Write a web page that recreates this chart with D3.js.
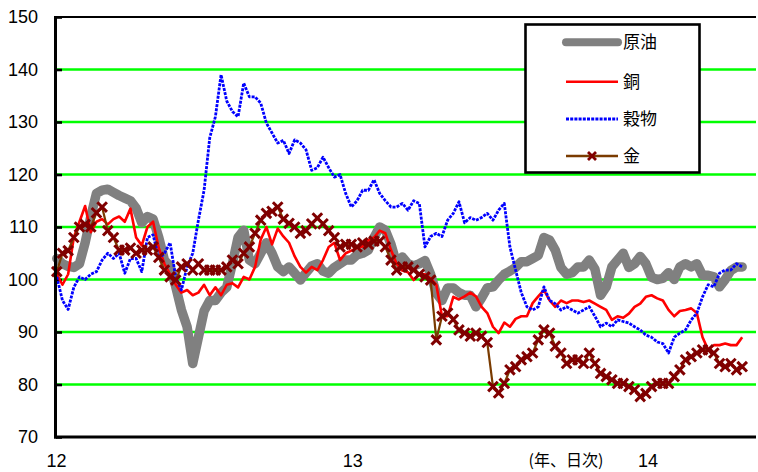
<!DOCTYPE html>
<html>
<head>
<meta charset="utf-8">
<script src="https://cdn.jsdelivr.net/npm/d3@7/dist/d3.min.js"></script>
<style>
  html, body { margin: 0; padding: 0; background: #fff; }
  svg { display: block; }
  text { font-family: "Liberation Sans", Arial, sans-serif; fill: #000; }
  .jp { font-family: "Noto Sans CJK JP", "Noto Sans CJK SC", sans-serif; }
</style>
</head>
<body>
<svg id="chart" width="758" height="472"></svg>
<script>
// Weekly observations (index, 2012 start = 100), from the first week of Jan 2012
const startDate = new Date(2012, 0, 2);
const stepDays = 7;

// 原油 (crude oil)
const crudeOil = [
  104, 103, 102.5, 102.3, 103, 107, 112, 116.4, 117, 117.2,
  116.6, 116, 115.5, 115, 113.6, 110.8, 112, 111.5, 108, 103.7,
  102.5, 98.6, 94.2, 91, 84, 89, 94, 96, 96, 97.5,
  98.5, 103, 108, 109.4, 103.7, 103, 105, 107, 105, 102.4,
  101.5, 102.4, 101.2, 99.9, 101.3, 102.6, 103, 101.6, 101.2, 102.3,
  103, 103.7, 103.7, 104.7, 105, 105.6, 108, 110, 109.4, 106.7,
  103, 104.3, 103, 102.6, 103, 103.6, 101, 97.4, 96, 98.4,
  98.4, 97.5, 97, 97, 94.8, 96.5, 98.4, 98.6, 99.9, 101,
  101.6, 102.3, 103.4, 103.4, 104, 104.6, 108, 107.5, 105.6, 102.3,
  101, 101.3, 102.4, 102.4, 103.7, 102, 97, 98.6, 102.4, 103.7,
  105, 102.3, 103, 104.4, 103, 100.4, 100, 100.2, 101.3, 100,
  102.4, 103, 102.4, 103, 100.8, 100.8, 100.5, 98.6, 100, 101.7,
  102.4, 102.4
];

// 銅 (copper)
const copper = [
  101, 99, 101, 108, 111, 114, 109, 111, 111.5, 110.5,
  111.5, 112, 111, 113.5, 108, 106.5, 110, 111, 106, 103,
  101, 99, 97.5, 98, 97, 97.5, 99, 97, 98.5, 97,
  99, 99.3, 98.5, 100.5, 100, 102.4, 107.6, 110, 106.7, 109.7,
  108.2, 107, 104.4, 102.4, 101.3, 102.4, 101.8, 103.7, 106.2, 107,
  103.7, 105, 105.5, 106, 106.3, 107.5, 108, 109.3, 108.8, 105.6,
  103, 101.7, 101.4, 99.9, 101, 101, 100.2, 99, 93, 93,
  96.7, 96.2, 96.8, 97.5, 96.8, 94.8, 93.6, 91, 89.8, 91.8,
  91, 92.5, 93, 93, 95.5, 96.8, 98, 96, 94.8, 96,
  95.5, 96, 96, 95.7, 96, 95.4, 94.8, 94.2, 92.3, 93,
  92.7, 93.5, 94.8, 95.4, 96.7, 97, 96.4, 96, 94.2, 93,
  94, 94.2, 94.5, 93.6, 89, 86.6, 87.5, 87.5, 87.8, 87.5,
  87.5, 89
];

// 穀物 (grains)
const grains = [
  100.5, 96, 94.3, 98.5, 100.5, 100, 101, 101.5, 103.7, 105,
  104, 105, 101.2, 104, 104, 101.5, 108, 108.5, 104, 105,
  107, 100.4, 98, 102.4, 105, 111.3, 117, 127, 131, 139,
  134, 132, 131, 137.4, 134.8, 134.8, 133.6, 129.8, 127.9, 126,
  126.5, 124, 126.6, 126, 124.7, 120.8, 121.3, 123.3, 121.3, 119.5,
  120, 116.4, 113.8, 115, 117, 117, 119, 116.4, 115, 113.8,
  113.8, 114.5, 113.2, 115, 114.5, 106.2, 108.2, 108.8, 108.2, 111.3,
  112.6, 114.8, 110.8, 111.8, 111.3, 111.8, 112.6, 111.3, 113.2, 114.5,
  106.2, 101.8, 97.5, 94.8, 94.2, 94.8, 98.6, 96, 95.4, 94.2,
  94.8, 94.2, 93.6, 94.2, 94.8, 93, 91, 91.7, 91, 92.3,
  92, 91.7, 91, 90.4, 89.4, 89, 88.1, 87.8, 86, 89,
  89.8, 90.4, 92.3, 93.6, 96.7, 99, 98.6, 101.2, 101.8, 101.8,
  103, 102.4
];

// 金 (gold)
const gold = [
  101.5, 105, 105.5, 108, 110, 110.5, 110, 112.7, 113.8, 109.3,
  108, 105.6, 105.6, 106, 105, 105.6, 105.6, 106.2, 104.2, 101.8,
  100.5, 99.9, 102.4, 103, 101.8, 103, 101.8, 101.8, 101.8, 101.8,
  102.4, 103.7, 103, 105, 106.2, 108.8, 111.3, 112.6, 113, 113.8,
  111.5, 110.7, 110, 108.8, 109.3, 110.6, 111.7, 110.6, 109.3, 108,
  106.2, 106.7, 106.7, 106.2, 107, 106.7, 107.3, 107.3, 106.2, 103.7,
  101.8, 102.4, 102.4, 101.8, 101, 100.5, 99.9, 88.5, 93, 93.6,
  92.4, 90.4, 89.8, 89.2, 89.8, 89.2, 88, 79.6, 78.4, 80.2,
  82.8, 83.4, 84.7, 85.3, 86, 88.5, 90.4, 89.8, 87.3, 86,
  84, 84.7, 84.7, 84, 86, 84, 82.1, 81.5, 80.9, 80.2,
  80.2, 79.6, 79, 77.7, 78.3, 79.6, 80.2, 80.2, 80.2, 81.5,
  82.8, 84.7, 85.3, 86, 86.6, 86.6, 86, 84, 83.4, 84,
  82.8, 83.4
];

const yTicks = [70, 80, 90, 100, 110, 120, 130, 140, 150];
const xTickYears = [2012, 2013, 2014];
const xTickLabels = ["12", "13", "14"];
const xUnitLabel = "(年、日次)";

const seriesDefs = [
  { name: "原油", values: crudeOil },
  { name: "銅",   values: copper },
  { name: "穀物", values: grains },
  { name: "金",   values: gold }
];

const svg = d3.select("#chart");
const plotLeft = 56, plotRight = 756, plotTop = 17, plotBottom = 437;

const x = d3.scaleTime()
  .domain([new Date(2012, 0, 1), new Date(2014, 0, 1)])
  .range([56, 647.5]);
const y = d3.scaleLinear().domain([70, 150]).range([plotBottom, plotTop]);

const dateAt = i => d3.timeDay.offset(startDate, i * stepDays);

// horizontal grid lines
svg.append("g").selectAll("line")
  .data(yTicks.filter(v => v > 70 && v < 150))
  .join("line")
  .attr("x1", plotLeft).attr("x2", plotRight)
  .attr("y1", d => y(d)).attr("y2", d => y(d))
  .attr("stroke", "#00ff00").attr("stroke-width", 2.6);

// top frame line
svg.append("line")
  .attr("x1", plotLeft - 1.5).attr("x2", plotRight)
  .attr("y1", y(150)).attr("y2", y(150))
  .attr("stroke", "#000").attr("stroke-width", 2.2);

// y axis
const yAxis = d3.axisLeft(y).tickValues(yTicks).tickSize(-6).tickPadding(16)
  .tickFormat(d3.format("d"));
const gy = svg.append("g").attr("transform", `translate(${plotLeft},0)`).call(yAxis);
gy.select(".domain").remove();
gy.selectAll(".tick line").attr("stroke", "#000").attr("stroke-width", 2.6);
gy.selectAll(".tick text")
  .attr("x", -18)
  .style("font-size", "18px")
  .style("font-family", "'Liberation Sans', Arial, sans-serif");

// x axis labels
const xAxis = d3.axisBottom(x)
  .tickValues(xTickYears.map(yv => new Date(yv, 0, 1)))
  .tickSize(0).tickPadding(17)
  .tickFormat((d, i) => xTickLabels[i]);
const gx = svg.append("g").attr("transform", `translate(0,${plotBottom})`).call(xAxis);
gx.select(".domain").remove();
gx.selectAll(".tick text")
  .style("font-size", "18px")
  .style("font-family", "'Liberation Sans', Arial, sans-serif");

svg.append("text").attr("class", "jp")
  .attr("x", 566).attr("y", 466)
  .attr("text-anchor", "middle")
  .style("font-size", "16px")
  .text(xUnitLabel);

// series
const line = d3.line()
  .x((d, i) => x(dateAt(i)))
  .y(d => y(d));

const plot = svg.append("g");

plot.append("path").datum(crudeOil)
  .attr("d", line).attr("fill", "none")
  .attr("stroke", "#808080").attr("stroke-width", 9.5)
  .attr("stroke-linejoin", "round").attr("stroke-linecap", "round");

plot.append("path").datum(copper)
  .attr("d", line).attr("fill", "none")
  .attr("stroke", "#ff0000").attr("stroke-width", 2.6)
  .attr("stroke-linejoin", "round");

plot.append("path").datum(grains)
  .attr("d", line).attr("fill", "none")
  .attr("stroke", "#0000ff").attr("stroke-width", 2.8)
  .attr("stroke-dasharray", "3,1.2")
  .attr("stroke-linejoin", "round");

plot.append("path").datum(gold)
  .attr("d", line).attr("fill", "none")
  .attr("stroke", "#7a3b00").attr("stroke-width", 2.2);

const crossPath = s => `M${-s},${-s}L${s},${s}M${-s},${s}L${s},${-s}`;
plot.append("g").selectAll("path")
  .data(gold)
  .join("path")
  .attr("transform", (d, i) => `translate(${x(dateAt(i))},${y(d)})`)
  .attr("d", crossPath(4.8))
  .attr("stroke", "#800000").attr("stroke-width", 3);

// axis lines
svg.append("line")
  .attr("x1", 55.5).attr("x2", 55.5).attr("y1", plotTop - 1).attr("y2", plotBottom + 1.5)
  .attr("stroke", "#000").attr("stroke-width", 3);
svg.append("line")
  .attr("x1", 54).attr("x2", plotRight).attr("y1", plotBottom).attr("y2", plotBottom)
  .attr("stroke", "#000").attr("stroke-width", 3);

// legend
const lg = svg.append("g");
lg.append("rect")
  .attr("x", 525.5).attr("y", 24.5).attr("width", 174).attr("height", 148)
  .attr("fill", "#fff").attr("stroke", "#000").attr("stroke-width", 2.6);

const legendY = [42.3, 81.7, 119, 156];
const lx1 = 566, lx2 = 618;

lg.append("line").attr("x1", lx1).attr("x2", lx2).attr("y1", legendY[0]).attr("y2", legendY[0])
  .attr("stroke", "#808080").attr("stroke-width", 8).attr("stroke-linecap", "round");
lg.append("line").attr("x1", lx1).attr("x2", lx2).attr("y1", legendY[1]).attr("y2", legendY[1])
  .attr("stroke", "#ff0000").attr("stroke-width", 2.6);
lg.append("line").attr("x1", lx1).attr("x2", lx2).attr("y1", legendY[2]).attr("y2", legendY[2])
  .attr("stroke", "#0000ff").attr("stroke-width", 2.8).attr("stroke-dasharray", "3,1.2");
lg.append("line").attr("x1", lx1).attr("x2", lx2).attr("y1", legendY[3]).attr("y2", legendY[3])
  .attr("stroke", "#7a3b00").attr("stroke-width", 2.6);
lg.append("path")
  .attr("transform", `translate(${(lx1 + lx2) / 2},${legendY[3]})`)
  .attr("d", crossPath(4)).attr("stroke", "#800000").attr("stroke-width", 2.8);

lg.selectAll("text.lbl")
  .data(seriesDefs)
  .join("text")
  .attr("class", "lbl jp")
  .attr("x", 623).attr("y", (d, i) => legendY[i])
  .attr("dy", "0.36em")
  .style("font-size", "17px")
  .text(d => d.name);
</script>
</body>
</html>
